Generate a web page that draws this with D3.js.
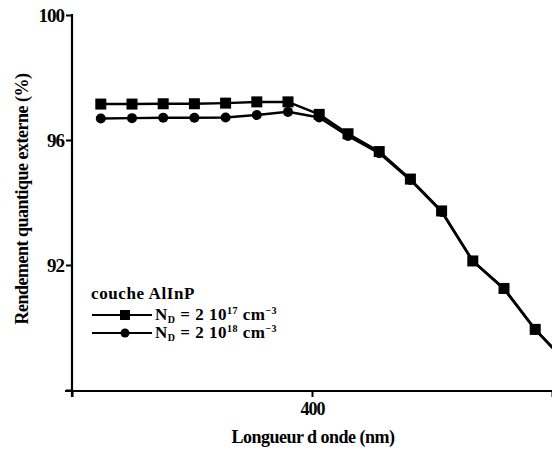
<!DOCTYPE html>
<html>
<head>
<meta charset="utf-8">
<script src="https://cdn.jsdelivr.net/npm/d3@7"></script>
<style>
body { margin: 0; background: #fff; }
svg text { font-family: "Liberation Serif", "DejaVu Serif", serif !important; font-weight: bold; fill: #000; }
</style>
</head>
<body>
<svg id="svg"></svg>
<script>
var width = 552, height = 449;

// wavelengths (nm) and external quantum efficiency (%)
var wavelengths = [312, 325, 338, 351, 364, 377, 390, 403, 415, 428, 441, 454, 467, 480, 493, 506];
var serie17 = [97.15, 97.15, 97.16, 97.16, 97.18, 97.22, 97.22, 96.82, 96.2, 95.63, 94.75, 93.73, 92.13, 91.25, 89.94, 88.9];
var serie18 = [96.69, 96.70, 96.71, 96.71, 96.72, 96.80, 96.90, 96.72, 96.13, 95.58, 94.72, 93.70, 92.12, 91.23, 89.93, 88.88];
var yTicks = [88, 92, 96, 100];
var xTicks = [300, 400, 500];

var svg = d3.select("#svg")
	.attr("width", width)
	.attr("height", height);

var x = d3.scaleLinear()
	.domain([300, 500])
	.range([72, 552]);

var y = d3.scaleLinear()
	.domain([88, 100])
	.range([390, 15]);

var line = d3.line()
	.x(function(d) { return x(d[0]); })
	.y(function(d) { return y(d[1]); });

var d17 = wavelengths.map(function(w, i) { return [w, serie17[i]]; });
var d18 = wavelengths.map(function(w, i) { return [w, serie18[i]]; });

// axes
var yAxis = d3.axisLeft(y)
	.tickValues(yTicks)
	.tickSizeOuter(0)
	.tickSize(6)
	.tickPadding(2)
	.tickFormat(function(d) { return d == 88 ? "" : d; });
var gy = svg.append("g")
	.attr("transform", "translate(72,0)")
	.call(yAxis);
gy.attr("font-family", null);
gy.select(".domain").remove();
gy.append("line")
	.attr("x1", 0).attr("x2", 0)
	.attr("y1", 14).attr("y2", 397)
	.attr("stroke", "#000").attr("stroke-width", 2.2);
gy.selectAll(".tick line").attr("stroke-width", 2);
gy.selectAll(".tick text")
	.style("font-size", "19px")
	.style("letter-spacing", "-1px");

var xAxis = d3.axisBottom(x)
	.tickValues(xTicks)
	.tickSizeOuter(0)
	.tickSize(6)
	.tickPadding(5)
	.tickFormat(function(d) { return d == 400 ? d : ""; });
var gx = svg.append("g")
	.attr("transform", "translate(0,391)")
	.call(xAxis);
gx.attr("font-family", null);
gx.select(".domain").remove();
gx.append("line")
	.attr("x1", 65).attr("x2", 552)
	.attr("y1", 0).attr("y2", 0)
	.attr("stroke", "#000").attr("stroke-width", 2.2);
gx.selectAll(".tick line").attr("stroke-width", 2);
gx.selectAll(".tick text")
	.style("font-size", "18px")
	.style("letter-spacing", "-1px");

svg.append("text")
	.attr("x", 313)
	.attr("y", 443)
	.attr("text-anchor", "middle")
	.style("font-size", "18px")
	.style("letter-spacing", "-0.5px")
	.text("Longueur d onde (nm)");

svg.append("text")
	.attr("transform", "translate(28,199) rotate(-90)")
	.attr("text-anchor", "middle")
	.style("font-size", "18px")
	.style("letter-spacing", "-0.5px")
	.text("Rendement quantique externe (%)");

// series
svg.append("path")
	.datum(d18)
	.attr("d", line)
	.attr("fill", "none")
	.attr("stroke", "#000")
	.attr("stroke-width", 2.5);
svg.append("path")
	.datum(d17)
	.attr("d", line)
	.attr("fill", "none")
	.attr("stroke", "#000")
	.attr("stroke-width", 2.5);

svg.selectAll(".circ")
	.data(d18)
	.enter()
	.append("circle")
	.attr("class", "circ")
	.attr("cx", function(d) { return x(d[0]); })
	.attr("cy", function(d) { return y(d[1]); })
	.attr("r", 5)
	.attr("fill", "#000");

svg.selectAll(".sq")
	.data(d17)
	.enter()
	.append("rect")
	.attr("class", "sq")
	.attr("x", function(d) { return x(d[0]) - 5.5; })
	.attr("y", function(d) { return y(d[1]) - 5.5; })
	.attr("width", 11)
	.attr("height", 11)
	.attr("fill", "#000");

// legend
var legend = svg.append("g");
legend.append("text")
	.attr("x", 91)
	.attr("y", 299)
	.style("font-size", "17px")
	.style("letter-spacing", "0.6px")
	.text("couche AlInP");

var items = [
	{ y: 315, shape: "square", exp: "17" },
	{ y: 333, shape: "circle", exp: "18" }
];
items.forEach(function(it) {
	legend.append("line")
		.attr("x1", 92).attr("x2", 152)
		.attr("y1", it.y).attr("y2", it.y)
		.attr("stroke", "#000").attr("stroke-width", 2);
	if (it.shape == "square")
		legend.append("rect")
			.attr("x", 120).attr("y", it.y - 5)
			.attr("width", 10).attr("height", 10)
			.attr("fill", "#000");
	else
		legend.append("circle")
			.attr("cx", 125).attr("cy", it.y)
			.attr("r", 4.5)
			.attr("fill", "#000");
	var t = legend.append("text")
		.attr("x", 155)
		.attr("y", it.y + 5)
		.style("font-size", "17px")
		.style("letter-spacing", "0.5px");
	t.append("tspan").text("N");
	t.append("tspan").attr("dy", 3).style("font-size", "10px").text("D");
	t.append("tspan").attr("dy", -3).text(" = 2 10");
	t.append("tspan").attr("dy", -6).style("font-size", "10px").text(it.exp);
	t.append("tspan").attr("dy", 6).text(" cm");
	t.append("tspan").attr("dy", -6).style("font-size", "10px").text("\u22123");
});
</script>
</body>
</html>
